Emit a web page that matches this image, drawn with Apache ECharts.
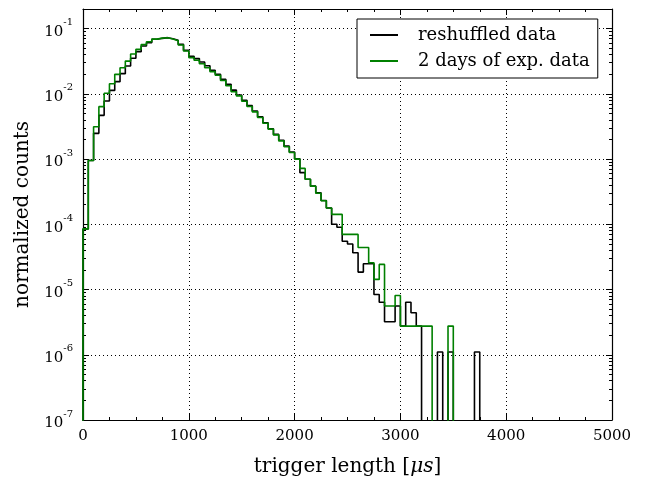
<!DOCTYPE html>
<html lang="en">
<head>
    <meta charset="UTF-8">
    <title>trigger length histogram</title>
    <script src="https://cdn.jsdelivr.net/npm/echarts@6/dist/echarts.min.js"></script>
    <style>
        * {
            margin: 0;
            padding: 0;
        }

        body {
            background: #ffffff;
        }

        #chart {
            width: 646px;
            height: 482px;
        }
    </style>
</head>
<body>
    <div id="chart"></div>

    <script>
        // bin width 50 us, bins start at 0
        const binWidth = 50;

        // normalized counts per bin, reshuffled data (black)
        const reshuffled = [
            8.5e-5, 9.5e-4, 2.48e-3, 4.68e-3, 7.76e-3, 1.13e-2, 1.54e-2, 2.04e-2, 2.67e-2, 3.51e-2,
            4.44e-2, 5.41e-2, 6.1e-2, 6.86e-2, 7.1e-2, 7.27e-2, 7.0e-2, 6.62e-2, 5.74e-2, 4.65e-2,
            3.76e-2, 3.47e-2, 3.08e-2, 2.7e-2, 2.29e-2, 2.0e-2, 1.67e-2, 1.40e-2, 1.14e-2, 9.6e-3,
            8.0e-3, 6.6e-3, 5.45e-3, 4.45e-3, 3.61e-3, 2.92e-3, 2.39e-3, 1.94e-3, 1.58e-3, 1.28e-3,
            1.01e-3, 6.2e-4, 4.9e-4, 3.85e-4, 3.05e-4, 2.32e-4, 1.78e-4, 1.0e-4, 9.0e-5, 5.5e-5,
            5.0e-5, 3.66e-5, 1.85e-5, 2.48e-5, 2.48e-5, 8.4e-6, 6.4e-6, 3.2e-6, 3.2e-6, 5.6e-6,
            2.75e-6, 6.4e-6, 4.4e-6, 2.75e-6, 0, 0, 0, 1.1e-6, 0, 1.1e-6,
            0, 0, 0, 0, 1.1e-6
        ];

        // normalized counts per bin, 2 days of experimental data (green)
        const expData = [
            8.5e-5, 9.5e-4, 3.14e-3, 6.37e-3, 1.02e-2, 1.43e-2, 1.99e-2, 2.52e-2, 3.18e-2, 4.08e-2,
            4.81e-2, 5.69e-2, 6.3e-2, 6.9e-2, 7.15e-2, 7.25e-2, 6.95e-2, 6.5e-2, 5.6e-2, 4.55e-2,
            3.6e-2, 3.27e-2, 2.9e-2, 2.52e-2, 2.19e-2, 1.93e-2, 1.6e-2, 1.33e-2, 1.08e-2, 9.3e-3,
            7.7e-3, 6.4e-3, 5.3e-3, 4.35e-3, 3.55e-3, 2.88e-3, 2.35e-3, 1.9e-3, 1.55e-3, 1.26e-3,
            1.0e-3, 7.2e-4, 4.9e-4, 3.85e-4, 3.0e-4, 2.3e-4, 1.78e-4, 1.42e-4, 1.42e-4, 7.0e-5,
            7.0e-5, 7.0e-5, 4.4e-5, 4.4e-5, 2.57e-5, 1.43e-5, 2.43e-5, 5.6e-6, 5.6e-6, 8.1e-6,
            2.75e-6, 2.75e-6, 2.75e-6, 2.75e-6, 2.75e-6, 2.75e-6, 0, 0, 0, 2.75e-6
        ];

        const seriesNames = ['reshuffled data', '2 days of exp. data'];
        const seriesColors = ['#000000', '#008000'];

        const xMin = 0, xMax = 5000, xStep = 1000;
        const yMin = 1e-7, yMax = 0.2;

        // empty bins sit below the axis, the line is clipped at the frame
        const FLOOR = 1e-10;

        // histogram outline: left edge of every bin, closed at the last edge
        function stepPoints(vals) {
            const pts = [[0, FLOOR]];
            vals.forEach((v, i) => pts.push([i * binWidth, v > 0 ? v : FLOOR]));
            pts.push([vals.length * binWidth, FLOOR]);
            return pts;
        }

        const font = 'DejaVu Serif';

        function logLabel(v) {
            const e = Math.log10(v);
            if (Math.abs(e - Math.round(e)) > 1e-6) return '';
            return '{b|10}{s|' + Math.round(e) + '}';
        }

        const tickStyle = { show: true, inside: true, length: 6, lineStyle: { color: '#000', width: 1 } };
        const minorStyle = { show: true, length: 3, lineStyle: { color: '#000', width: 1 } };
        const frameLine = { show: true, onZero: false, lineStyle: { color: '#000', width: 1.2 } };
        const gridLine = { show: true, lineStyle: { color: '#000', type: [1, 3], width: 1 } };

        const chart = echarts.init(document.getElementById('chart'));
        chart.setOption({
            animation: false,
            grid: { left: 83, right: 34, top: 9, bottom: 61 },
            legend: {
                orient: 'vertical',
                left: 357,
                top: 19,
                padding: [7, 8, 8, 13],
                itemGap: 8,
                itemWidth: 28,
                itemHeight: 2,
                icon: 'rect',
                backgroundColor: '#fff',
                borderColor: '#000',
                borderWidth: 1,
                borderRadius: 0,
                textStyle: { fontFamily: font, fontSize: 18, color: '#000', padding: [0, 0, 0, 15] },
                data: seriesNames
            },
            xAxis: [{
                type: 'value',
                min: xMin,
                max: xMax,
                interval: xStep,
                name: 'trigger length {m|[}{i|μ}{r|s}{m|]}',
                nameLocation: 'middle',
                nameGap: 37,
                nameTextStyle: {
                    fontFamily: font, fontSize: 20, color: '#000',
                    rich: {
                        m: { fontFamily: font, fontSize: 20, color: '#000' },
                        i: { fontFamily: font, fontSize: 20, fontStyle: 'italic', color: '#000' },
                        r: { fontFamily: font, fontSize: 20, fontStyle: 'italic', color: '#000' }
                    }
                },
                axisLine: frameLine,
                axisTick: tickStyle,
                minorTick: Object.assign({ splitNumber: 4 }, minorStyle),
                axisLabel: { fontFamily: font, fontSize: 15, color: '#000', margin: 9, formatter: v => String(v) },
                splitLine: gridLine
            }, {
                type: 'value',
                position: 'top',
                min: xMin,
                max: xMax,
                interval: xStep,
                axisLine: frameLine,
                axisTick: tickStyle,
                minorTick: Object.assign({ splitNumber: 4 }, minorStyle),
                axisLabel: { show: false },
                splitLine: { show: false }
            }],
            yAxis: [{
                type: 'log',
                logBase: 10,
                min: yMin,
                max: yMax,
                name: 'normalized counts',
                nameLocation: 'middle',
                nameGap: 43,
                nameTextStyle: { fontFamily: font, fontSize: 20, color: '#000' },
                axisLine: frameLine,
                axisTick: tickStyle,
                minorTick: Object.assign({ splitNumber: 9 }, minorStyle),
                axisLabel: {
                    margin: 10,
                    formatter: logLabel,
                    rich: {
                        b: { fontFamily: font, fontSize: 15, color: '#000', lineHeight: 22, verticalAlign: 'bottom' },
                        s: { fontFamily: font, fontSize: 10, color: '#000', lineHeight: 22, verticalAlign: 'top' }
                    }
                },
                splitLine: gridLine
            }, {
                type: 'log',
                logBase: 10,
                position: 'right',
                min: yMin,
                max: yMax,
                axisLine: frameLine,
                axisTick: tickStyle,
                minorTick: Object.assign({ splitNumber: 9 }, minorStyle),
                axisLabel: { show: false },
                splitLine: { show: false }
            }],
            series: [reshuffled, expData].map((vals, k) => ({
                name: seriesNames[k],
                type: 'line',
                step: 'end',
                xAxisIndex: 0,
                yAxisIndex: 0,
                showSymbol: false,
                symbol: 'none',
                clip: true,
                color: seriesColors[k],
                lineStyle: { color: seriesColors[k], width: 1.6 },
                data: stepPoints(vals)
            }))
        });
    </script>
</body>
</html>
